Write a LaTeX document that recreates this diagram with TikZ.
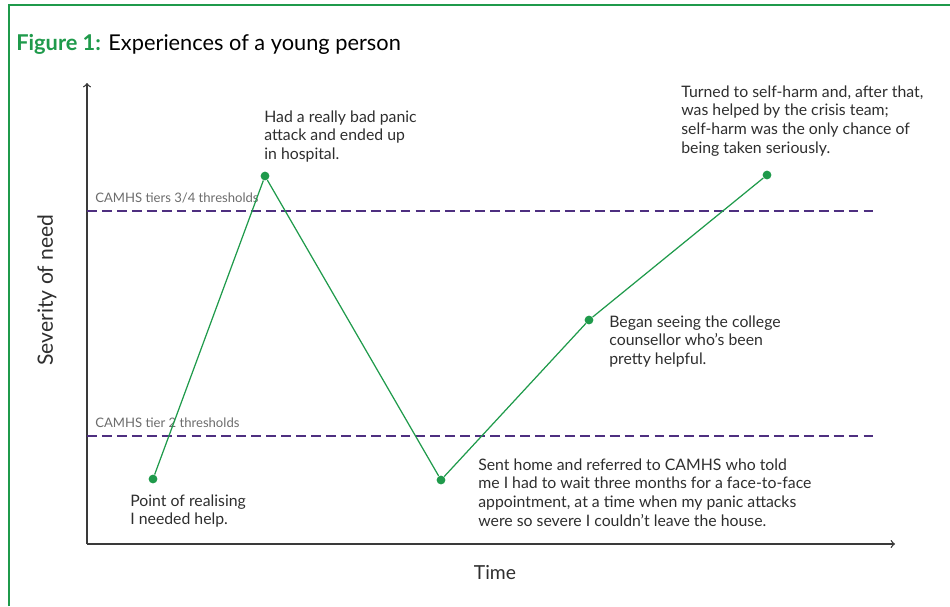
\documentclass[tikz,border=0pt]{standalone}
\usepackage{fontspec}
\setmainfont{Lato}
\definecolor{figgreen}{HTML}{1F9A4B}
\definecolor{threshpurple}{HTML}{4E2F80}
\definecolor{axisgray}{HTML}{3A3A3A}
\definecolor{textgray}{HTML}{2E2E2E}
\begin{document}
\begin{tikzpicture}[x=0.02cm, y=-0.02cm,
    note/.style={anchor=north west, inner sep=0, align=left, text=textgray,
      font=\fontsize{9}{10.8}\selectfont},
    dot/.style={circle, fill=figgreen, inner sep=0, minimum size=5pt},
    curve/.style={draw=figgreen, line width=0.7pt},
    thresh/.style={draw=threshpurple, line width=0.7pt, dash pattern=on 5.6pt off 2.9pt},
    threshlabel/.style={anchor=base west, inner sep=0, text=gray!85!black,
      font=\fontsize{7.45}{8}\selectfont},
    axis/.style={draw=axisgray, line width=0.75pt, ->}]
    \useasboundingbox (0,0) rectangle (950,606);
    % frame
    \draw[figgreen, line width=1.2pt] (9,606) -- (9,5) -- (950,5);
    \node[anchor=base west, inner sep=0, font=\fontsize{12.4}{14}\selectfont] (title) at (16,50)
      {\textcolor{figgreen}{\textbf{Figure 1:}} Experiences of a young person};
    % axes
    \coordinate (origin) at (87,544);
    \coordinate (ytip) at (87,83);
    \coordinate (xtip) at (895,544);
    \draw[axis] (origin) -- (ytip);
    \draw[axis] (origin) -- (xtip);
    \node[rotate=90, font=\fontsize{12}{14}\selectfont, text=textgray] (ylab) at (47,290) {Severity of need};
    \node[font=\fontsize{11}{13}\selectfont, text=textgray] (xlab) at (495,573) {Time};
    % thresholds
    \coordinate (hi a) at (87,211);
    \coordinate (hi b) at (877,211);
    \coordinate (lo a) at (87,436);
    \coordinate (lo b) at (877,436);
    \draw[thresh] (hi a) -- (hi b);
    \draw[thresh] (lo a) -- (lo b);
    \node[threshlabel] (hi lab) at (95,202) {CAMHS tiers 3/4 thresholds};
    \node[threshlabel] (lo lab) at (95,427) {CAMHS tier 2 thresholds};
    % experiences
    \node[dot] (p1) at (153,479) {};
    \node[dot] (p2) at (265,176) {};
    \node[dot] (p3) at (441,480) {};
    \node[dot] (p4) at (589,320) {};
    \node[dot] (p5) at (767,175) {};
    \draw[curve] (p1) -- (p2) -- (p3) -- (p4) -- (p5);
    \node[note] (n1) at (130,494) {Point of realising\\I needed help.};
    \node[note] (n2) at (264,110) {Had a really bad panic\\attack and ended up\\in hospital.};
    \node[note] (n3) at (478,458) {Sent home and referred to CAMHS who told\\me I had to wait three months for a face-to-face\\appointment, at a time when my panic attacks\\were so severe I couldn’t leave the house.};
    \node[note] (n4) at (609,315) {Began seeing the college\\counsellor who’s been\\pretty helpful.};
    \node[note] (n5) at (681,85) {Turned to self-harm and, after that,\\was helped by the crisis team;\\self-harm was the only chance of\\being taken seriously.};
  \end{tikzpicture}
\end{document}
